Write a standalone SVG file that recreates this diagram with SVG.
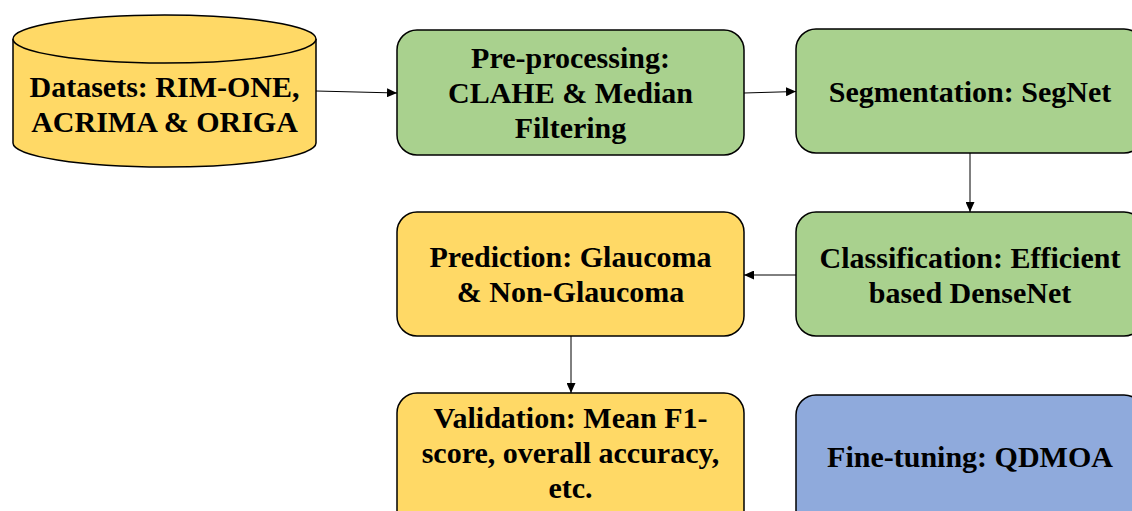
<svg xmlns="http://www.w3.org/2000/svg" width="1132" height="511" viewBox="0 0 1132 511">
<defs>
<marker id="arr" viewBox="0 0 10 10" refX="10" refY="5" markerWidth="10" markerHeight="9" markerUnits="userSpaceOnUse" orient="auto" preserveAspectRatio="none">
<path d="M0,0 L10,5 L0,10 z" fill="#000"/>
</marker>
<style>
.box{stroke:#000;stroke-width:1.5}
.y{fill:#FFD966}.g{fill:#A9D18E}.b{fill:#8FAADC}
text{font-family:"Liberation Serif","Times New Roman",serif;font-weight:bold;font-size:30px;fill:#000;text-anchor:middle}
.c{stroke:#000;stroke-width:1;fill:none;marker-end:url(#arr)}
</style>
</defs>
<rect width="1132" height="511" fill="#fff"/>
<g id="datasets">
<path class="box y" d="M13,39 L13,143 A151.5,24 0 0 0 316,143 L316,39"/>
<ellipse class="box y" cx="164.5" cy="39" rx="151.5" ry="24"/>
<text x="164.5" y="97">Datasets: RIM-ONE,</text>
<text x="164.5" y="132">ACRIMA &amp; ORIGA</text>
</g>
<g id="preprocessing">
<rect class="box g" x="397" y="30" width="347" height="125" rx="20"/>
<text x="570.5" y="68">Pre-processing:</text>
<text x="570.5" y="103">CLAHE &amp; Median</text>
<text x="570.5" y="138">Filtering</text>
</g>
<g id="segmentation">
<rect class="box g" x="796" y="29" width="348" height="124" rx="20"/>
<text x="970" y="102">Segmentation: SegNet</text>
</g>
<g id="classification">
<rect class="box g" x="796" y="212" width="348" height="124" rx="20"/>
<text x="970" y="268">Classification: Efficient</text>
<text x="970" y="303">based DenseNet</text>
</g>
<g id="prediction">
<rect class="box y" x="397" y="212" width="347" height="124" rx="20"/>
<text x="570.5" y="267">Prediction: Glaucoma</text>
<text x="570.5" y="302">&amp; Non-Glaucoma</text>
</g>
<g id="validation">
<rect class="box y" x="397" y="393" width="347" height="140" rx="20"/>
<text x="570.5" y="428">Validation: Mean F1-</text>
<text x="570.5" y="463">score, overall accuracy,</text>
<text x="570.5" y="498">etc.</text>
</g>
<g id="finetuning">
<rect class="box b" x="796" y="395" width="348" height="140" rx="20"/>
<text x="970" y="467">Fine-tuning: QDMOA</text>
</g>
<g id="connectors">
<line class="c" x1="316" y1="91" x2="397" y2="93"/>
<line class="c" x1="744" y1="93" x2="796" y2="91.5"/>
<line class="c" x1="970" y1="153" x2="970" y2="212"/>
<line class="c" x1="796" y1="275" x2="744" y2="275"/>
<line class="c" x1="571" y1="336" x2="571" y2="393"/>
</g>
</svg>
